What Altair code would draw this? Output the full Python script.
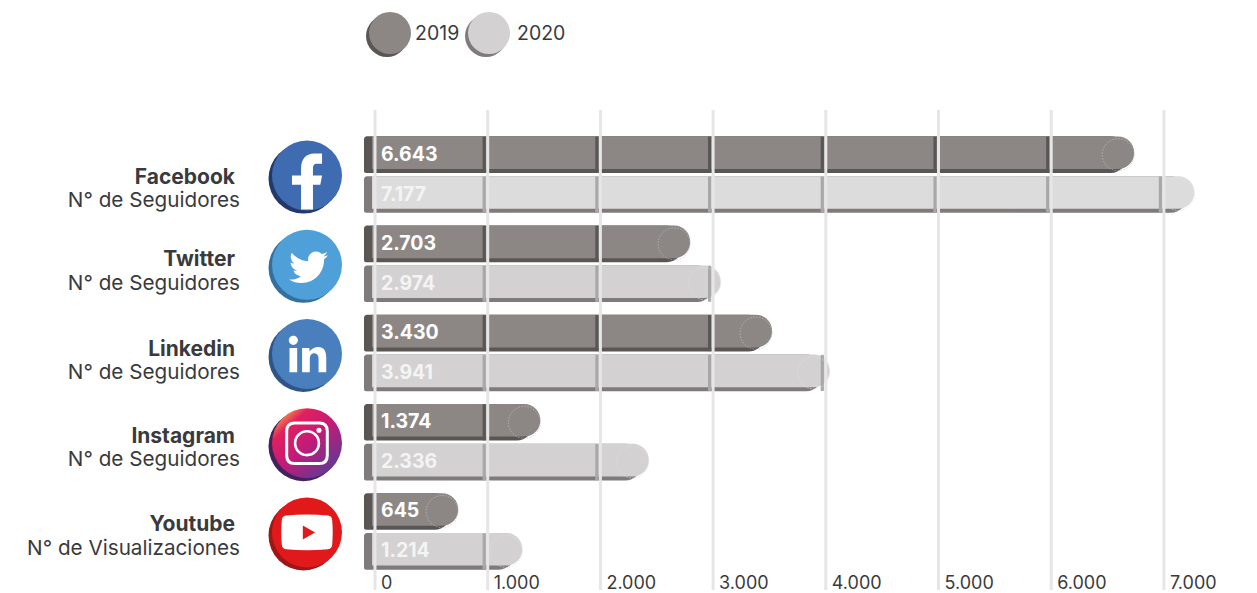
import re
import altair as alt
import pandas as pd

platforms = ["Facebook", "Twitter", "Linkedin", "Instagram", "Youtube"]
metrics = ["N° de Seguidores", "N° de Seguidores", "N° de Seguidores", "N° de Seguidores", "N° de Visualizaciones"]
values_2019 = [6643, 2703, 3430, 1374, 645]
values_2020 = [7177, 2974, 3941, 2336, 1214]
value_labels_2019 = ["6.643", "2.703", "3.430", "1.374", "645"]
value_labels_2020 = ["7.177", "2.974", "3.941", "2.336", "1.214"]
grid_values = [0, 1000, 2000, 3000, 4000, 5000, 6000, 7000]
grid_labels = ["0", "1.000", "2.000", "3.000", "4.000", "5.000", "6.000", "7.000"]

FONT = "Inter"
INK = "#3a3a3c"
FACE = {"2019": "#8c8785", "2020": "#d3d1d1"}
EDGE = {"2019": "#5a5654", "2020": "#7f7b7a"}
NOTCH = {"2019": "#5a5654", "2020": "#a9a8a8"}
RIM = {"2019": "#c4c1c0", "2020": "#e2e2e2"}
DEPTH_COLORS = {
    "Facebook": ("#3f6bb0", "#22396b"),
    "Twitter": ("#4f9fd8", "#33709e"),
    "Linkedin": ("#4a7fbe", "#2f5488"),
    "Youtube": ("#e2191b", "#9c1716"),
}
LABEL_DY = {"Facebook": (3.5, 26.5), "Twitter": (-4, 20), "Linkedin": (-3.5, 19.5),
            "Instagram": (-5.5, 17.5), "Youtube": (-6, 18)}

rows = []
for i, p in enumerate(platforms):
    rows.append(dict(platform=p, year="2019", value=values_2019[i], label=value_labels_2019[i]))
    rows.append(dict(platform=p, year="2020", value=values_2020[i], label=value_labels_2020[i]))
bars = pd.DataFrame(rows)
bars["face"] = [("#dcdcdc" if r.platform == "Facebook" and r.year == "2020" else FACE[r.year])
                for r in bars.itertuples()]
bars["edge"] = bars["year"].map(EDGE)
bars["notch"] = bars["year"].map(NOTCH)
bars["rim"] = bars["year"].map(RIM)
bars["labelColor"] = ["#ffffff" if y == "2019" else "#f4f4f4" for y in bars["year"]]

notches = pd.DataFrame([
    dict(platform=r.platform, year=r.year, tick=t, notch=r.notch)
    for r in bars.itertuples() for t in grid_values[1:] if t <= r.value + 60
])
grid = pd.DataFrame({"value": grid_values, "label": grid_labels})
rows_df = pd.DataFrame({"platform": platforms})

X = alt.Scale(domain=[-3327.4, 7826], range=[0, 1257], nice=False, zero=False)
Y = alt.Scale(domain=platforms, range=[130, 576], paddingInner=0, paddingOuter=0)
SUB = alt.Scale(type="band", domain=["2019", "2020"], paddingInner=0.08, paddingOuter=0.16)
# The front face sits 2px above the centre of the extruded body
SUB_FACE = alt.Scale(type="band", domain=["2019", "2020"], range=[-2, 87.2], paddingInner=0.08, paddingOuter=0.16)

y_row = alt.Y("platform:N", scale=Y, axis=None)
y_sub = alt.YOffset("year:N", scale=SUB)
y_face = alt.YOffset("year:N", scale=SUB_FACE)


def scale_path(path, cx, cy, k):
    """Rescale a small M/c/v/z path into the [-1, 1] symbol space."""
    out = []
    for cmd, args in re.findall(r"([McvzZ])([^McvzZ]*)", path):
        nums = [float(n) for n in re.findall(r"-?\d*\.?\d+", args)]
        if cmd == "M":
            nums = [(nums[0] - 12) * k + cx, (nums[1] - 12) * k + cy]
        else:
            nums = [n * k for n in nums]
        out.append(cmd + " ".join(f"{n:.4f}" for n in nums))
    return "".join(out)


BIRD = scale_path(
    "M23.643 4.937c-.835.37-1.732.62-2.675.733.962-.576 1.7-1.49 2.048-2.578-.9.534-1.897.922-2.958 1.13"
    "-.85-.904-2.06-1.47-3.4-1.47-2.572 0-4.658 2.086-4.658 4.66 0 .364.042.718.12 1.06"
    "-3.873-.195-7.304-2.05-9.602-4.868-.4.69-.63 1.49-.63 2.342 0 1.616.823 3.043 2.072 3.878"
    "-.764-.025-1.482-.234-2.11-.583v.06c0 2.257 1.605 4.14 3.737 4.568-.392.106-.803.162-1.227.162"
    "-.3 0-.593-.028-.877-.082.593 1.85 2.313 3.198 4.352 3.234-1.595 1.25-3.604 1.995-5.786 1.995"
    "-.376 0-.747-.022-1.112-.065 2.062 1.323 4.51 2.093 7.14 2.093 8.57 0 13.255-7.098 13.255-13.254"
    " 0-.2-.005-.402-.014-.602.91-.658 1.7-1.477 2.323-2.41z",
    0.03, 0.07, 0.049,
)
F_GLYPH = ("M-.17 .97L-.17 .26L-.43 .26L-.43 0L-.17 0L-.17 -.2C-.17 -.5 0 -.63 .2 -.63L.43 -.63L.43 -.34"
           "L.27 -.34C.2 -.34 .17 -.3 .17 -.2L.17 0L.43 0L.38 .26L.17 .26L.17 .97Z")
IN_GLYPH = ("M-.5 -.17L-.28 -.17L-.28 .52L-.5 .52Z"
            "M-.39 -.52C-.32 -.52 -.26 -.46 -.26 -.39C-.26 -.32 -.32 -.26 -.39 -.26"
            "C-.46 -.26 -.52 -.32 -.52 -.39C-.52 -.46 -.46 -.52 -.39 -.52Z"
            "M-.14 -.17L.07 -.17L.07 -.07C.13 -.15 .22 -.2 .32 -.2C.48 -.2 .55 -.09 .55 .1L.55 .52L.33 .52"
            "L.33 .14C.33 .04 .29 -.02 .21 -.02C.12 -.02 .08 .05 .08 .14L.08 .52L-.14 .52Z")
IG_FRAME = ("M-.35 -.58L.35 -.58C.5 -.58 .58 -.5 .58 -.35L.58 .35C.58 .5 .5 .58 .35 .58L-.35 .58"
            "C-.5 .58 -.58 .5 -.58 .35L-.58 -.35C-.58 -.5 -.5 -.58 -.35 -.58Z")
IG_LENS = "M0 -.34C.19 -.34 .34 -.19 .34 0C.34 .19 .19 .34 0 .34C-.19 .34 -.34 .19 -.34 0C-.34 -.19 -.19 -.34 0 -.34Z"
YT_BOX = ("M-.6 -.48C-.2 -.52 .2 -.52 .6 -.48C.68 -.47 .72 -.42 .72 -.34C.74 -.12 .74 .12 .72 .34"
          "C.72 .42 .68 .47 .6 .48C.2 .52 -.2 .52 -.6 .48C-.68 .47 -.72 .42 -.72 .34"
          "C-.74 .12 -.74 -.12 -.72 -.34C-.72 -.42 -.68 -.47 -.6 -.48Z")
YT_PLAY = "M-.12 -.2L.23 0L-.12 .2Z"

IG_GRADIENT = alt.LinearGradient(
    gradient="linear", x1=0.1, y1=0.05, x2=0.85, y2=0.9,
    stops=[alt.GradientStop(offset=0, color="#f9b43a"),
           alt.GradientStop(offset=0.22, color="#e0205f"),
           alt.GradientStop(offset=0.55, color="#c21b78"),
           alt.GradientStop(offset=1, color="#5f3a94")],
)


def on_row(platform, mark):
    return alt.Chart(rows_df[rows_df.platform == platform]).mark_point(**mark).encode(x=alt.value(307), y=y_row)


def disc(platform, fill, dx=0, dy=1):
    return on_row(platform, dict(shape="circle", size=4900, filled=True, fill=fill, opacity=1,
                                 strokeWidth=0, xOffset=dx, yOffset=dy))


def glyph(platform, path, size=4900, fill="#ffffff", dx=0, dy=1):
    return on_row(platform, dict(shape=path, size=size, filled=True, fill=fill, opacity=1,
                                 strokeWidth=0, xOffset=dx, yOffset=dy))


def outline(platform, path, stroke_width, size=4900, dx=0, dy=1):
    return on_row(platform, dict(shape=path, size=size, filled=False, stroke="#ffffff", opacity=1,
                                 strokeWidth=stroke_width, xOffset=dx, yOffset=dy))


layers = []

# Bar bodies: darker extruded edge first, then the front face
layers.append(alt.Chart(bars).mark_bar(
    cornerRadiusTopLeft=3, cornerRadiusBottomLeft=2, cornerRadiusTopRight=16, cornerRadiusBottomRight=16,
    xOffset=3, x2Offset=-11,
).encode(x=alt.X("value:Q", scale=X, axis=None), x2=alt.X2(datum=0), y=y_row, yOffset=y_sub,
         color=alt.Color("edge:N", scale=None)))
layers.append(alt.Chart(bars).mark_bar(
    cornerRadiusTopRight=16, cornerRadiusBottomRight=16, height=32.6,
    xOffset=10.5, x2Offset=-3,
).encode(x=alt.X("value:Q", scale=X), x2=alt.X2(datum=0), y=y_row, yOffset=y_face,
         color=alt.Color("face:N", scale=None)))

# Thousand notches cut into the bars
layers.append(alt.Chart(notches).mark_tick(thickness=3.2, size=36, xOffset=-3.5, opacity=1).encode(
    x=alt.X("tick:Q", scale=X), y=y_row, yOffset=y_sub, color=alt.Color("notch:N", scale=None)))

# Faint dotted circle at the round end of every bar
layers.append(alt.Chart(bars).mark_point(
    shape="circle", size=1024, filled=False, strokeWidth=0.7, strokeDash=[1.5, 1.5], opacity=1,
    xOffset=-5.5, yOffset=-2,
).encode(x=alt.X("value:Q", scale=X), y=y_row, yOffset=y_sub, stroke=alt.Stroke("rim:N", scale=None)))

# Vertical guides and their labels
layers.append(alt.Chart(grid).mark_rule(color="#e6e6e6", strokeWidth=3).encode(
    x=alt.X("value:Q", scale=X), y=alt.value(110), y2=alt.value(590)))
layers.append(alt.Chart(grid).mark_text(font=FONT, fontSize=18, align="left", baseline="middle",
                                        color=INK, dx=6).encode(
    x=alt.X("value:Q", scale=X), y=alt.value(583.5), text="label:N"))

# Values inside the bars
layers.append(alt.Chart(bars).mark_text(font=FONT, fontSize=19.5, fontWeight=700, align="left",
                                        baseline="middle", dx=6).encode(
    x=alt.datum(0, scale=X), y=y_row, yOffset=y_sub, text="label:N",
    color=alt.Color("labelColor:N", scale=None)))

# Row captions
for p, m in zip(platforms, metrics):
    top, bottom = LABEL_DY[p]
    sub = rows_df[rows_df.platform == p].assign(metric=m)
    layers.append(alt.Chart(sub).mark_text(font=FONT, fontSize=21, fontWeight=700, align="right",
                                           baseline="middle", color=INK, dy=top).encode(
        x=alt.value(235), y=y_row, text="platform:N"))
    layers.append(alt.Chart(sub).mark_text(font=FONT, fontSize=20.7, align="right",
                                           baseline="middle", color=INK, dy=bottom).encode(
        x=alt.value(240), y=y_row, text="metric:N"))

# Platform badges
for p in ["Facebook", "Twitter", "Linkedin", "Youtube"]:
    face, depth = DEPTH_COLORS[p]
    layers.append(disc(p, depth, dx=-3.5, dy=4))
    layers.append(disc(p, face))
layers.append(glyph("Facebook", F_GLYPH))
layers.append(glyph("Twitter", BIRD))
layers.append(glyph("Linkedin", IN_GLYPH))
layers.append(disc("Instagram", "#43215f", dx=-3.5, dy=4))
layers.append(disc("Instagram", IG_GRADIENT))
layers.append(outline("Instagram", IG_FRAME, 3))
layers.append(outline("Instagram", IG_LENS, 2.6))
layers.append(glyph("Instagram", "circle", size=26, dx=12, dy=-12))
layers.append(glyph("Youtube", YT_BOX))
layers.append(glyph("Youtube", YT_PLAY, fill="#e2191b"))

# Year key
legend = pd.DataFrame({"year": ["2019", "2020"], "cx": [390, 489], "tx": [415, 517]})
for r in legend.itertuples():
    one = legend[legend.year == r.year]
    layers.append(alt.Chart(one).mark_point(shape="circle", size=1764, filled=True, opacity=1, strokeWidth=0,
                                            fill=EDGE[r.year], xOffset=-3, yOffset=3).encode(
        x=alt.value(r.cx), y=alt.value(33)))
    layers.append(alt.Chart(one).mark_point(shape="circle", size=1764, filled=True, opacity=1, strokeWidth=0,
                                            fill=FACE[r.year]).encode(
        x=alt.value(r.cx), y=alt.value(33)))
    layers.append(alt.Chart(one).mark_text(font=FONT, fontSize=19.5, align="left", baseline="middle",
                                           color=INK).encode(
        x=alt.value(r.tx), y=alt.value(34), text="year:N"))

chart = alt.layer(*layers).resolve_scale(yOffset="independent").properties(
    width=1257, height=593, padding=0, autosize=alt.AutoSizeParams(type="none"),
    background="#ffffff",
).configure_view(stroke=None)

chart.save("out.html", embed_options={"renderer": "svg", "actions": False})
